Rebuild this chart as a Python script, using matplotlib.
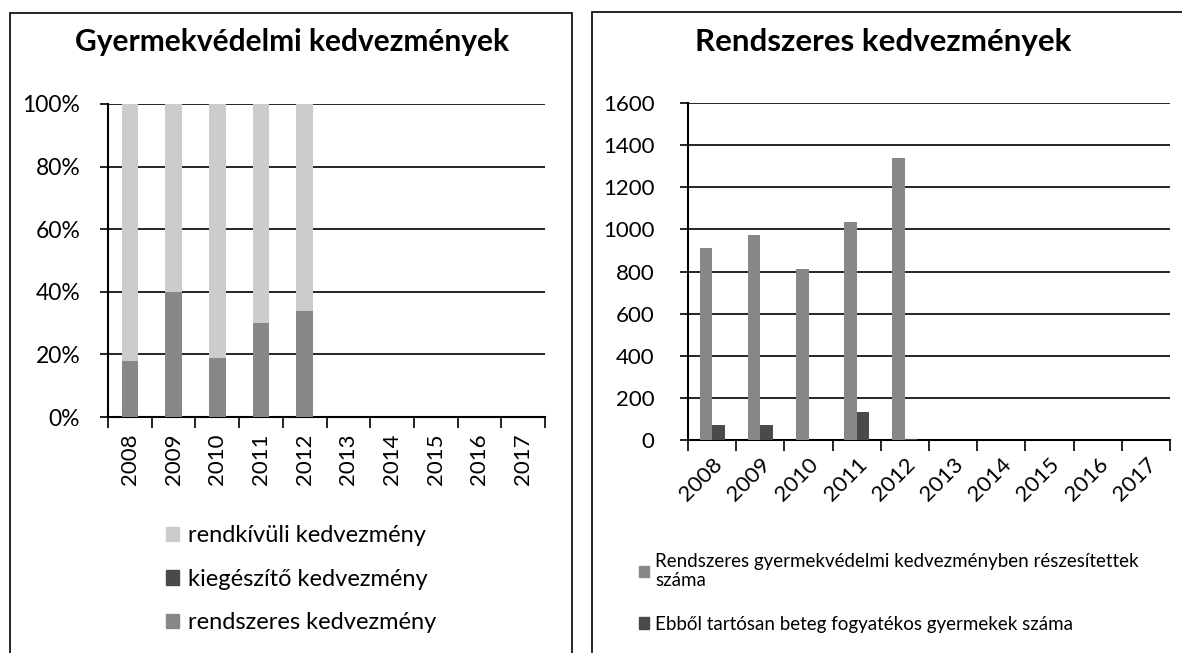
import matplotlib.pyplot as plt
import numpy as np
from matplotlib.patches import Rectangle, Patch

plt.rcParams['font.family'] = ['Lato', 'DejaVu Sans']

years = ['2008', '2009', '2010', '2011', '2012', '2013', '2014', '2015', '2016', '2017']

# left chart: shares (%) per year, stacked to 100
rendszeres = [18, 40, 19, 30, 34, 0, 0, 0, 0, 0]
kiegeszito = [0, 0, 0, 0, 0, 0, 0, 0, 0, 0]
rendkivuli = [82, 60, 81, 70, 66, 0, 0, 0, 0, 0]

# right chart: counts
reszesitettek = [910, 975, 810, 1035, 1340, 0, 0, 0, 0, 0]
tartosan_beteg = [70, 70, 0, 135, 5, 0, 0, 0, 0, 0]

c_light = '#cccccc'
c_mid = '#878787'
c_dark = '#4a4a4a'

fig = plt.figure(figsize=(11.82, 6.53), dpi=100)
W, H = 1182, 653

def fx(px):
    return px / W

def fy(py):
    return 1 - py / H

# frames around the two charts
fig.patches.append(Rectangle((fx(10), fy(670)), fx(572) - fx(10), fy(13) - fy(670),
                             transform=fig.transFigure, fill=False, lw=1.2, ec='black'))
fig.patches.append(Rectangle((fx(592), fy(670)), fx(1200) - fx(592), fy(12) - fy(670),
                             transform=fig.transFigure, fill=False, lw=1.2, ec='black'))

x = np.arange(len(years))

# ---- left chart ----
ax1 = fig.add_axes([fx(108), fy(417), fx(545) - fx(108), fy(104) - fy(417)])
b1 = np.array(rendszeres)
b2 = b1 + np.array(kiegeszito)
ax1.bar(x, rendszeres, width=0.38, color=c_mid, zorder=3)
ax1.bar(x, kiegeszito, bottom=b1, width=0.38, color=c_dark, zorder=3)
ax1.bar(x, rendkivuli, bottom=b2, width=0.38, color=c_light, zorder=3)
ax1.set_xlim(-0.5, 9.5)
ax1.set_ylim(0, 100)
ax1.set_yticks(np.arange(0, 101, 20))
ax1.set_yticklabels([f'{v}%' for v in range(0, 101, 20)], fontsize=16.5)
ax1.set_xticks(x)
ax1.set_xticklabels(years, rotation=90, fontsize=16)
ax1.set_xticks(np.arange(-0.5, 10, 1), minor=True)
ax1.tick_params(axis='x', which='major', length=0, pad=12)
ax1.tick_params(axis='x', which='minor', length=8, width=1.2, direction='out')
ax1.tick_params(axis='y', length=6, width=1.2, direction='out', pad=14)
ax1.grid(axis='y', color='black', lw=1.2, zorder=0)
for s in ['top', 'right']:
    ax1.spines[s].set_visible(False)
for s in ['left', 'bottom']:
    ax1.spines[s].set_linewidth(1.5)
fig.text(fx(292), fy(42), 'Gyermekvédelmi kedvezmények', ha='center', va='center',
         fontsize=21.5, fontweight='bold')
h1 = [Patch(color=c_light), Patch(color=c_dark), Patch(color=c_mid)]
fig.legend(h1, ['rendkívüli kedvezmény', 'kiegészítő kedvezmény', 'rendszeres kedvezmény'],
           loc='upper left', bbox_to_anchor=(fx(157), fy(516)), frameon=False,
           fontsize=17, handlelength=0.55, handleheight=0.55, handletextpad=0.35,
           labelspacing=0.95, borderaxespad=0)

# ---- right chart ----
ax2 = fig.add_axes([fx(688), fy(440), fx(1170) - fx(688), fy(103) - fy(440)])
bw = 0.26
ax2.bar(x - bw / 2, reszesitettek, width=bw, color=c_mid, zorder=3)
ax2.bar(x + bw / 2, tartosan_beteg, width=bw, color=c_dark, zorder=3)
ax2.set_xlim(-0.5, 9.5)
ax2.set_ylim(0, 1600)
ax2.set_yticks(np.arange(0, 1601, 200))
ax2.tick_params(axis='y', labelsize=16, length=6, width=1.2, direction='out', pad=18)
ax2.set_xticks(x)
ax2.set_xticklabels(years, rotation=45, ha='right', rotation_mode='anchor', fontsize=16)
ax2.set_xticks(np.arange(-0.5, 10, 1), minor=True)
ax2.tick_params(axis='x', which='major', length=0, pad=10)
ax2.tick_params(axis='x', which='minor', length=8, width=1.2, direction='out')
ax2.grid(axis='y', color='black', lw=1.2, zorder=0)
for s in ['top', 'right']:
    ax2.spines[s].set_visible(False)
for s in ['left', 'bottom']:
    ax2.spines[s].set_linewidth(1.5)
fig.text(fx(883), fy(42), 'Rendszeres kedvezmények', ha='center', va='center',
         fontsize=22.5, fontweight='bold')
h2 = [Patch(color=c_mid), Patch(color=c_dark)]
fig.legend(h2, ['Rendszeres gyermekvédelmi kedvezményben részesítettek\nszáma',
                'Ebből tartósan beteg fogyatékos gyermekek száma'],
           loc='upper left', bbox_to_anchor=(fx(631), fy(545)), frameon=False,
           fontsize=13.5, handlelength=0.55, handleheight=0.55, handletextpad=0.35,
           labelspacing=1.4, borderaxespad=0)

fig.savefig('out.png', dpi=100)
